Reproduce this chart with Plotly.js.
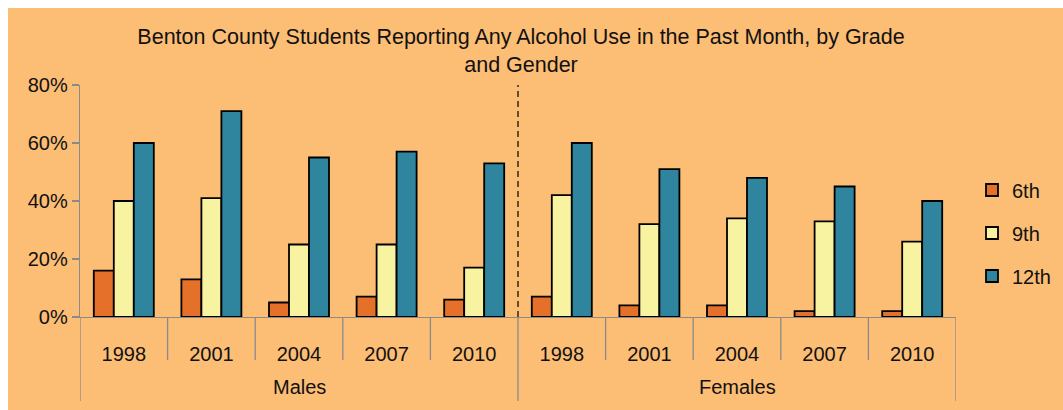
<!DOCTYPE html>
<html>
<head>
<meta charset="utf-8">
<script src="https://cdn.plot.ly/plotly-3.0.1.min.js"></script>
<style>html,body{margin:0;padding:0;background:#fff;}</style>
</head>
<body>
<div id="chart" style="width:1063px;height:410px;"></div>
<script>
const years = ['1998','2001','2004','2007','2010'];
const groups = ['Males','Females'];
const grade6  = [16,13,5,7,6, 7,4,4,2,2];
const grade9  = [40,41,25,25,17, 42,32,34,33,26];
const grade12 = [60,71,55,57,53, 60,51,48,45,40];
const seriesNames = ['6th','9th','12th'];
const seriesColors = ['#E5702A','#F8F3A1','#2E859D'];
const yTickVals = [0,20,40,60,80];
const yTickText = ['0%','20%','40%','60%','80%'];

const tickLabels = groups.flatMap(() => years);
const xIdx = tickLabels.map((_, i) => i);
const values = [grade6, grade9, grade12];

const traces = values.map((v, k) => ({
  type: 'bar',
  x: xIdx,
  y: v,
  name: seriesNames[k],
  legendgroup: 'g' + k,
  marker: {color: seriesColors[k], line: {color: '#000', width: 1.8}},
  hoverinfo: 'skip'
}));

const PL = 80, PR = 956, PT = 85, PB = 317, W = 1063, H = 410;
const pw = PR - PL, ph = PB - PT;
const px = x => (x - PL) / pw;
const py = y => (PB - y) / ph;

const shapes = [];
shapes.push({type:'rect', xref:'paper', yref:'paper', x0:px(8), x1:px(W+5), y0:py(8), y1:py(H+5),
  fillcolor:'#FCBD75', line:{width:0}, layer:'below'});
const n = tickLabels.length;
for (let i = 0; i <= n; i++) {
  const b = i - 0.5;
  const isGroup = (i % years.length === 0);
  shapes.push({type:'line', xref:'x', yref:'paper', x0:b, x1:b, y0:0, y1:py(isGroup ? 401 : 360),
    line:{color:'#8A8A8A', width:1.3}});
}
shapes.push({type:'line', xref:'x', yref:'paper', x0:years.length-0.5, x1:years.length-0.5, y0:0, y1:1,
  line:{color:'#000', width:1.2, dash:'6px,4px'}});

const annotations = groups.map((g, gi) => ({
  text: g, xref:'x', yref:'paper', x: gi*years.length + (years.length-1)/2, y: py(387),
  showarrow:false, xanchor:'center', yanchor:'middle',
  font:{family:'Liberation Sans, Arial, sans-serif', size:20, color:'#111'}
}));

const layout = {
  width: W, height: H,
  margin: {l: PL, r: W - PR, t: PT, b: H - PB, autoexpand: false},
  paper_bgcolor: '#ffffff',
  plot_bgcolor: '#ffffff',
  font: {family: 'Liberation Sans, Arial, sans-serif', color: '#111'},
  title: {
    text: 'Benton County Students Reporting Any Alcohol Use in the Past Month, by Grade<br>and Gender',
    font: {size: 21.5, color: '#111'},
    x: 521 / W, xanchor: 'center', xref: 'container',
    y: 1 - 44 / H, yanchor: 'middle', yref: 'container'
  },
  barmode: 'group',
  bargap: 0.315,
  bargroupgap: 0,
  showlegend: true,
  legend: {
    x: px(972), xanchor: 'left', y: py(233), yanchor: 'middle',
    bgcolor: 'rgba(0,0,0,0)', font: {size: 20, color: '#111'},
    tracegroupgap: 14, traceorder: 'grouped'
  },
  xaxis: {
    range: [-0.5, n - 0.5],
    tickmode: 'array', tickvals: xIdx, ticktext: tickLabels,
    ticks: '', showgrid: false, zeroline: false,
    showline: true, linecolor: '#8A8A8A', linewidth: 1.3,
    tickfont: {size: 20, color: '#111'},
    ticklabelstandoff: 19,
    fixedrange: true
  },
  yaxis: {
    range: [0, 80], tickmode: 'array', tickvals: yTickVals, ticktext: yTickText,
    ticks: 'outside', ticklen: 7, tickcolor: '#8A8A8A', tickwidth: 1.3,
    showgrid: false, zeroline: false,
    showline: true, linecolor: '#8A8A8A', linewidth: 1.3,
    tickfont: {size: 20, color: '#111'},
    fixedrange: true
  },
  shapes: shapes,
  annotations: annotations
};

Plotly.newPlot('chart', traces, layout, {displayModeBar: false, staticPlot: true});
</script>
</body>
</html>
